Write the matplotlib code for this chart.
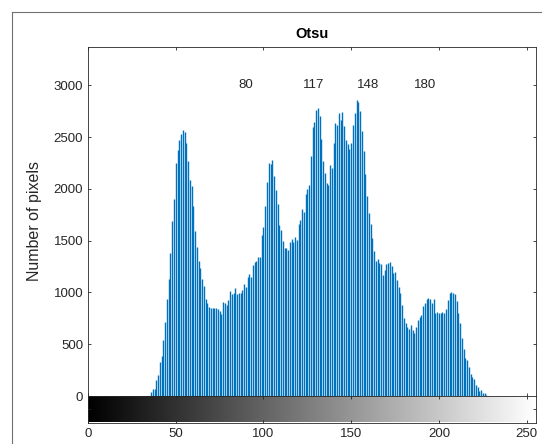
import numpy as np
import matplotlib
matplotlib.use("Agg")
import matplotlib.pyplot as plt
from matplotlib.lines import Line2D

plt.rcParams['font.family'] = ['Liberation Sans', 'DejaVu Sans']

# histogram counts, bins 36..227 (all other bins are 0)
first_bin = 36
counts_read = [
    41, 64, 70, 154, 202, 325, 386, 540, 710, 932,            # 36-45
    1125, 1376, 1688, 1897, 2250, 2372, 2469, 2527, 2565, 2549,  # 46-55
    2446, 2266, 2090, 2025, 1832, 1591, 1434, 1302, 1237, 1125,  # 56-65
    1061, 938, 900, 861, 846, 846, 846, 845, 836, 823,        # 66-75
    791, 910, 894, 877, 926, 1016, 984, 990, 1038, 984,       # 76-85
    990, 990, 1022, 1080, 1054, 1150, 1176, 1150, 1263, 1296,  # 86-95
    1305, 1344, 1344, 1559, 1633, 1835, 2067, 2250, 2244, 2276,  # 96-105
    2122, 1993, 1858, 1649, 1601, 1495, 1424, 1430, 1408, 1488,  # 106-115
    1514, 1488, 1536, 1504, 1665, 1697, 1810, 1777, 1948, 2003,  # 116-125
    2035, 2314, 2597, 2642, 2758, 2784, 2703, 2485, 2269, 2148,  # 126-135
    2057, 2035, 2228, 2205, 2443, 2635, 2620, 2736, 2668, 2745,  # 136-145
    2607, 2469, 2437, 2389, 2443, 2613, 2730, 2854, 2838, 2751,  # 146-155
    2555, 2363, 2141, 1929, 1762, 1656, 1527, 1398, 1302, 1318,  # 156-165
    1280, 1270, 1167, 1215, 1273, 1280, 1289, 1254, 1190, 1199,  # 166-175
    1119, 1054, 996, 877, 749, 701, 662, 643, 685, 636,       # 176-185
    604, 668, 733, 765, 781, 868, 894, 932, 942, 932,         # 186-195
    894, 932, 797, 807, 804, 797, 807, 797, 836, 926,         # 196-205
    990, 1000, 996, 980, 919, 797, 701, 556, 453, 364,        # 206-215
    347, 283, 212, 186, 164, 106, 90, 48, 58, 32,             # 216-225
    26, 10,                                                   # 226-227
]
counts = np.zeros(256)
counts[first_bin:first_bin + len(counts_read)] = counts_read
bins = np.arange(256)

thresholds = [80, 117, 148, 180]
title = "Otsu"
ylabel = "Number of pixels"
yticks = [0, 500, 1000, 1500, 2000, 2500, 3000]
xticks = [0, 50, 100, 150, 200, 250]

W, H = 542, 444
fig = plt.figure(figsize=(W / 100, H / 100), dpi=100)
fig.patch.set_facecolor('white')

# panel frame (top and left edges visible)
fig.add_artist(Line2D([12 / W, 12 / W], [0, 1 - 12 / H], color='#707070', lw=0.8))
fig.add_artist(Line2D([12 / W, 1], [1 - 12 / H, 1 - 12 / H], color='#707070', lw=0.8))

axc = '#262626'
left, right = 88, 535.5
top, zero_y, cb_bot = 46.7, 396, 422.5

ax = fig.add_axes([left / W, 1 - zero_y / H, (right - left) / W, (zero_y - top) / H])
ax.vlines(bins, 0, counts, color='#0072BD', lw=1.0)
ax.set_xlim(0, 255)
ax.set_ylim(0, 3372)
ax.set_yticks(yticks)
ax.set_xticks(xticks)
ax.tick_params(direction='in', length=2.5, width=0.6, colors=axc,
               top=True, right=True, labelbottom=False, labelsize=9.5)
for s in ax.spines.values():
    s.set_color(axc)
    s.set_linewidth(0.6)
ax.set_title(title, fontsize=10.5, fontweight='bold', color='black', pad=6)
ax.set_ylabel(ylabel, fontsize=11.5, color=axc, labelpad=8)

for t in thresholds:
    ax.text(t + 5.5, 3000, str(t), ha='left', va='center', fontsize=9.5, color=axc)

# gray level bar below the histogram
cb = fig.add_axes([left / W, 1 - cb_bot / H, (right - left) / W, (cb_bot - zero_y) / H])
cb.imshow(np.arange(256).reshape(1, -1), cmap='gray', vmin=0, vmax=255,
          aspect='auto', extent=[0, 255, 0, 1])
cb.set_xlim(0, 255)
cb.set_ylim(0, 1)
cb.set_xticks(xticks)
cb.set_yticks([0.5])
cb.set_yticklabels([])
cb.tick_params(direction='in', length=2.5, width=0.6, colors=axc,
               top=True, right=True, labelsize=9.5, pad=4)
for s in cb.spines.values():
    s.set_color(axc)
    s.set_linewidth(0.6)

fig.savefig('out.png', dpi=100)
